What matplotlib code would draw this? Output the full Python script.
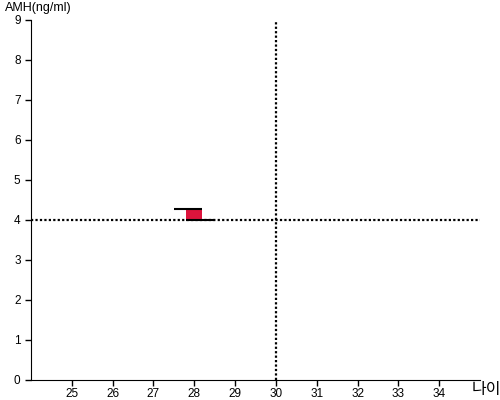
import matplotlib.pyplot as plt

# AMH value at age (open / close style mark)
age = [28.0]
amh_open = [4.27]
amh_close = [4.0]
box_low = [4.0]
box_high = [4.24]

ref_age = 30
ref_amh = 4

x_ticks = list(range(25, 35))
y_ticks = list(range(0, 10))

plt.rcParams['font.family'] = ['Liberation Sans', 'Noto Sans CJK KR', 'DejaVu Sans']

fig = plt.figure(figsize=(5, 4), dpi=100)
ax = fig.add_axes([0.062, 0.05, 0.898, 0.90])

for a, lo, hi, o, c in zip(age, box_low, box_high, amh_open, amh_close):
    ax.bar(a, hi - lo, bottom=lo, width=0.4, color='#dc143c', zorder=3)
    ax.hlines(o, a - 0.5, a + 0.2, color='black', lw=1.5, zorder=4)
    ax.hlines(c, a - 0.2, a + 0.5, color='black', lw=1.5, zorder=4)

ax.axhline(ref_amh, color='black', lw=1.6, linestyle=(0, (1, 1)), zorder=2)
ax.axvline(ref_age, color='black', lw=1.6, linestyle=(0, (1, 1)), zorder=2)

ax.set_xlim(24, 35)
ax.set_ylim(0, 9)
ax.set_xticks(x_ticks)
ax.set_yticks(y_ticks)
ax.tick_params(labelsize=8.5, length=4, width=1)
ax.tick_params(axis='x', pad=1.5)
for s in ['top', 'right']:
    ax.spines[s].set_visible(False)

fig.text(0.01, 0.995, 'AMH(ng/ml)', fontsize=9, va='top', ha='left')
fig.text(0.944, 0.027, '나이', fontsize=11.5, va='center', ha='left',
         family=['Noto Sans CJK KR', 'DejaVu Sans'])

fig.savefig('out.png', dpi=100)
